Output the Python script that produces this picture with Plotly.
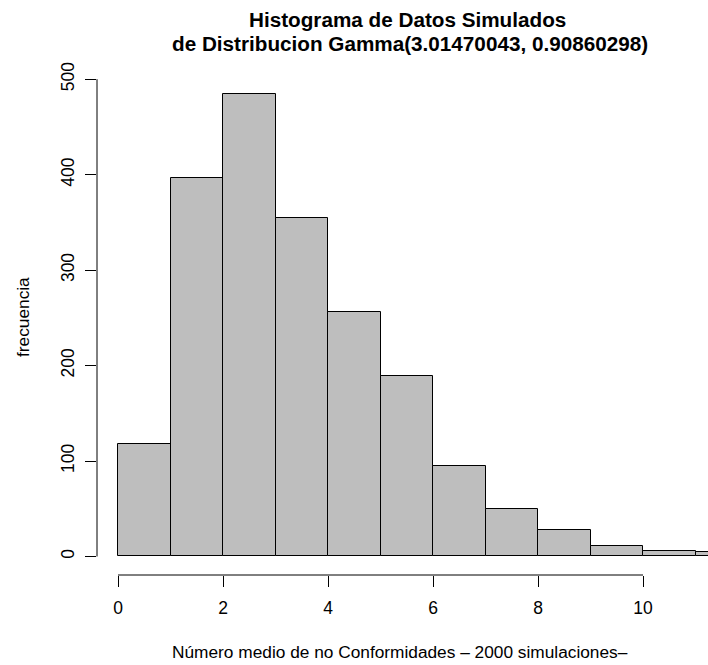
import plotly.graph_objects as go

# Histogram counts for unit-width bins starting at 0
bin_left = [0, 1, 2, 3, 4, 5, 6, 7, 8, 9, 10, 11]
counts = [118, 396, 484, 355, 256, 189, 95, 50, 28, 11, 6, 5]

x_ticks = [0, 2, 4, 6, 8, 10]
y_ticks = [0, 100, 200, 300, 400, 500]

title_lines = ["Histograma de Datos Simulados",
               "de Distribucion Gamma(3.01470043, 0.90860298)"]
x_title = "Número medio de no Conformidades – 2000 simulaciones–"
y_title = "frecuencia"

FONT = "Liberation Sans, Arial, Helvetica, sans-serif"
TICK_SIZE = 17.5
LABEL_SIZE = 17.3
TITLE_SIZE = 20.7

centers = [b + 0.5 for b in bin_left]

fig = go.Figure(go.Bar(
    x=centers, y=counts, width=1,
    marker=dict(color="#BEBEBE", line=dict(color="black", width=1)),
    hoverinfo="x+y",
))

W, H = 708, 665
m_l, m_r, m_t, m_b = 97, 0, 75, 90
plot_w = W - m_l - m_r
plot_h = H - m_t - m_b

# x-range: 52.5 px per unit, zero at 118 px
px_per_x = 52.5
x0 = -(118 - m_l) / px_per_x
x1 = x0 + plot_w / px_per_x

y_lo, y_hi = -19.4, 504.4

fig.update_layout(
    width=W, height=H,
    margin=dict(l=m_l, r=m_r, t=m_t, b=m_b),
    plot_bgcolor="white", paper_bgcolor="white",
    font=dict(family=FONT, size=LABEL_SIZE, color="black"),
    showlegend=False,
    bargap=0,
    xaxis=dict(range=[x0, x1], tickvals=x_ticks, ticks="outside", ticklen=11,
               tickcolor="black", showgrid=False, zeroline=False, showline=False,
               ticklabelstandoff=6, tickfont=dict(size=TICK_SIZE)),
    yaxis=dict(range=[y_lo, y_hi], tickvals=y_ticks, ticks="outside", ticklen=11,
               tickcolor="black", showgrid=False, zeroline=False, showline=False,
               ticklabelstandoff=4,
               tickangle=-90, tickfont=dict(size=TICK_SIZE)),
    shapes=[
        dict(type="line", xref="x", yref="paper", x0=x_ticks[0], x1=x_ticks[-1],
             y0=0, y1=0, line=dict(color="black", width=1)),
        dict(type="line", xref="paper", yref="y", x0=0, x1=0,
             y0=y_ticks[0], y1=y_ticks[-1], line=dict(color="black", width=1)),
    ],
)


def px_x(p):
    return (p - m_l) / plot_w


def px_y(p):
    return 1 - (p - m_t) / plot_h


annotations = [
    dict(text="<b>%s</b>" % title_lines[0], x=px_x(407), y=px_y(20),
         font=dict(size=TITLE_SIZE)),
    dict(text="<b>%s</b>" % title_lines[1], x=px_x(410), y=px_y(44),
         font=dict(size=TITLE_SIZE)),
    dict(text=x_title, x=px_x(400), y=px_y(652), font=dict(size=LABEL_SIZE)),
    dict(text=y_title, x=px_x(23), y=px_y(317), textangle=-90,
         font=dict(size=LABEL_SIZE)),
]
for a in annotations:
    a.update(xref="paper", yref="paper", showarrow=False,
             xanchor="center", yanchor="middle")
fig.update_layout(annotations=annotations)

fig.write_html("out.html")
